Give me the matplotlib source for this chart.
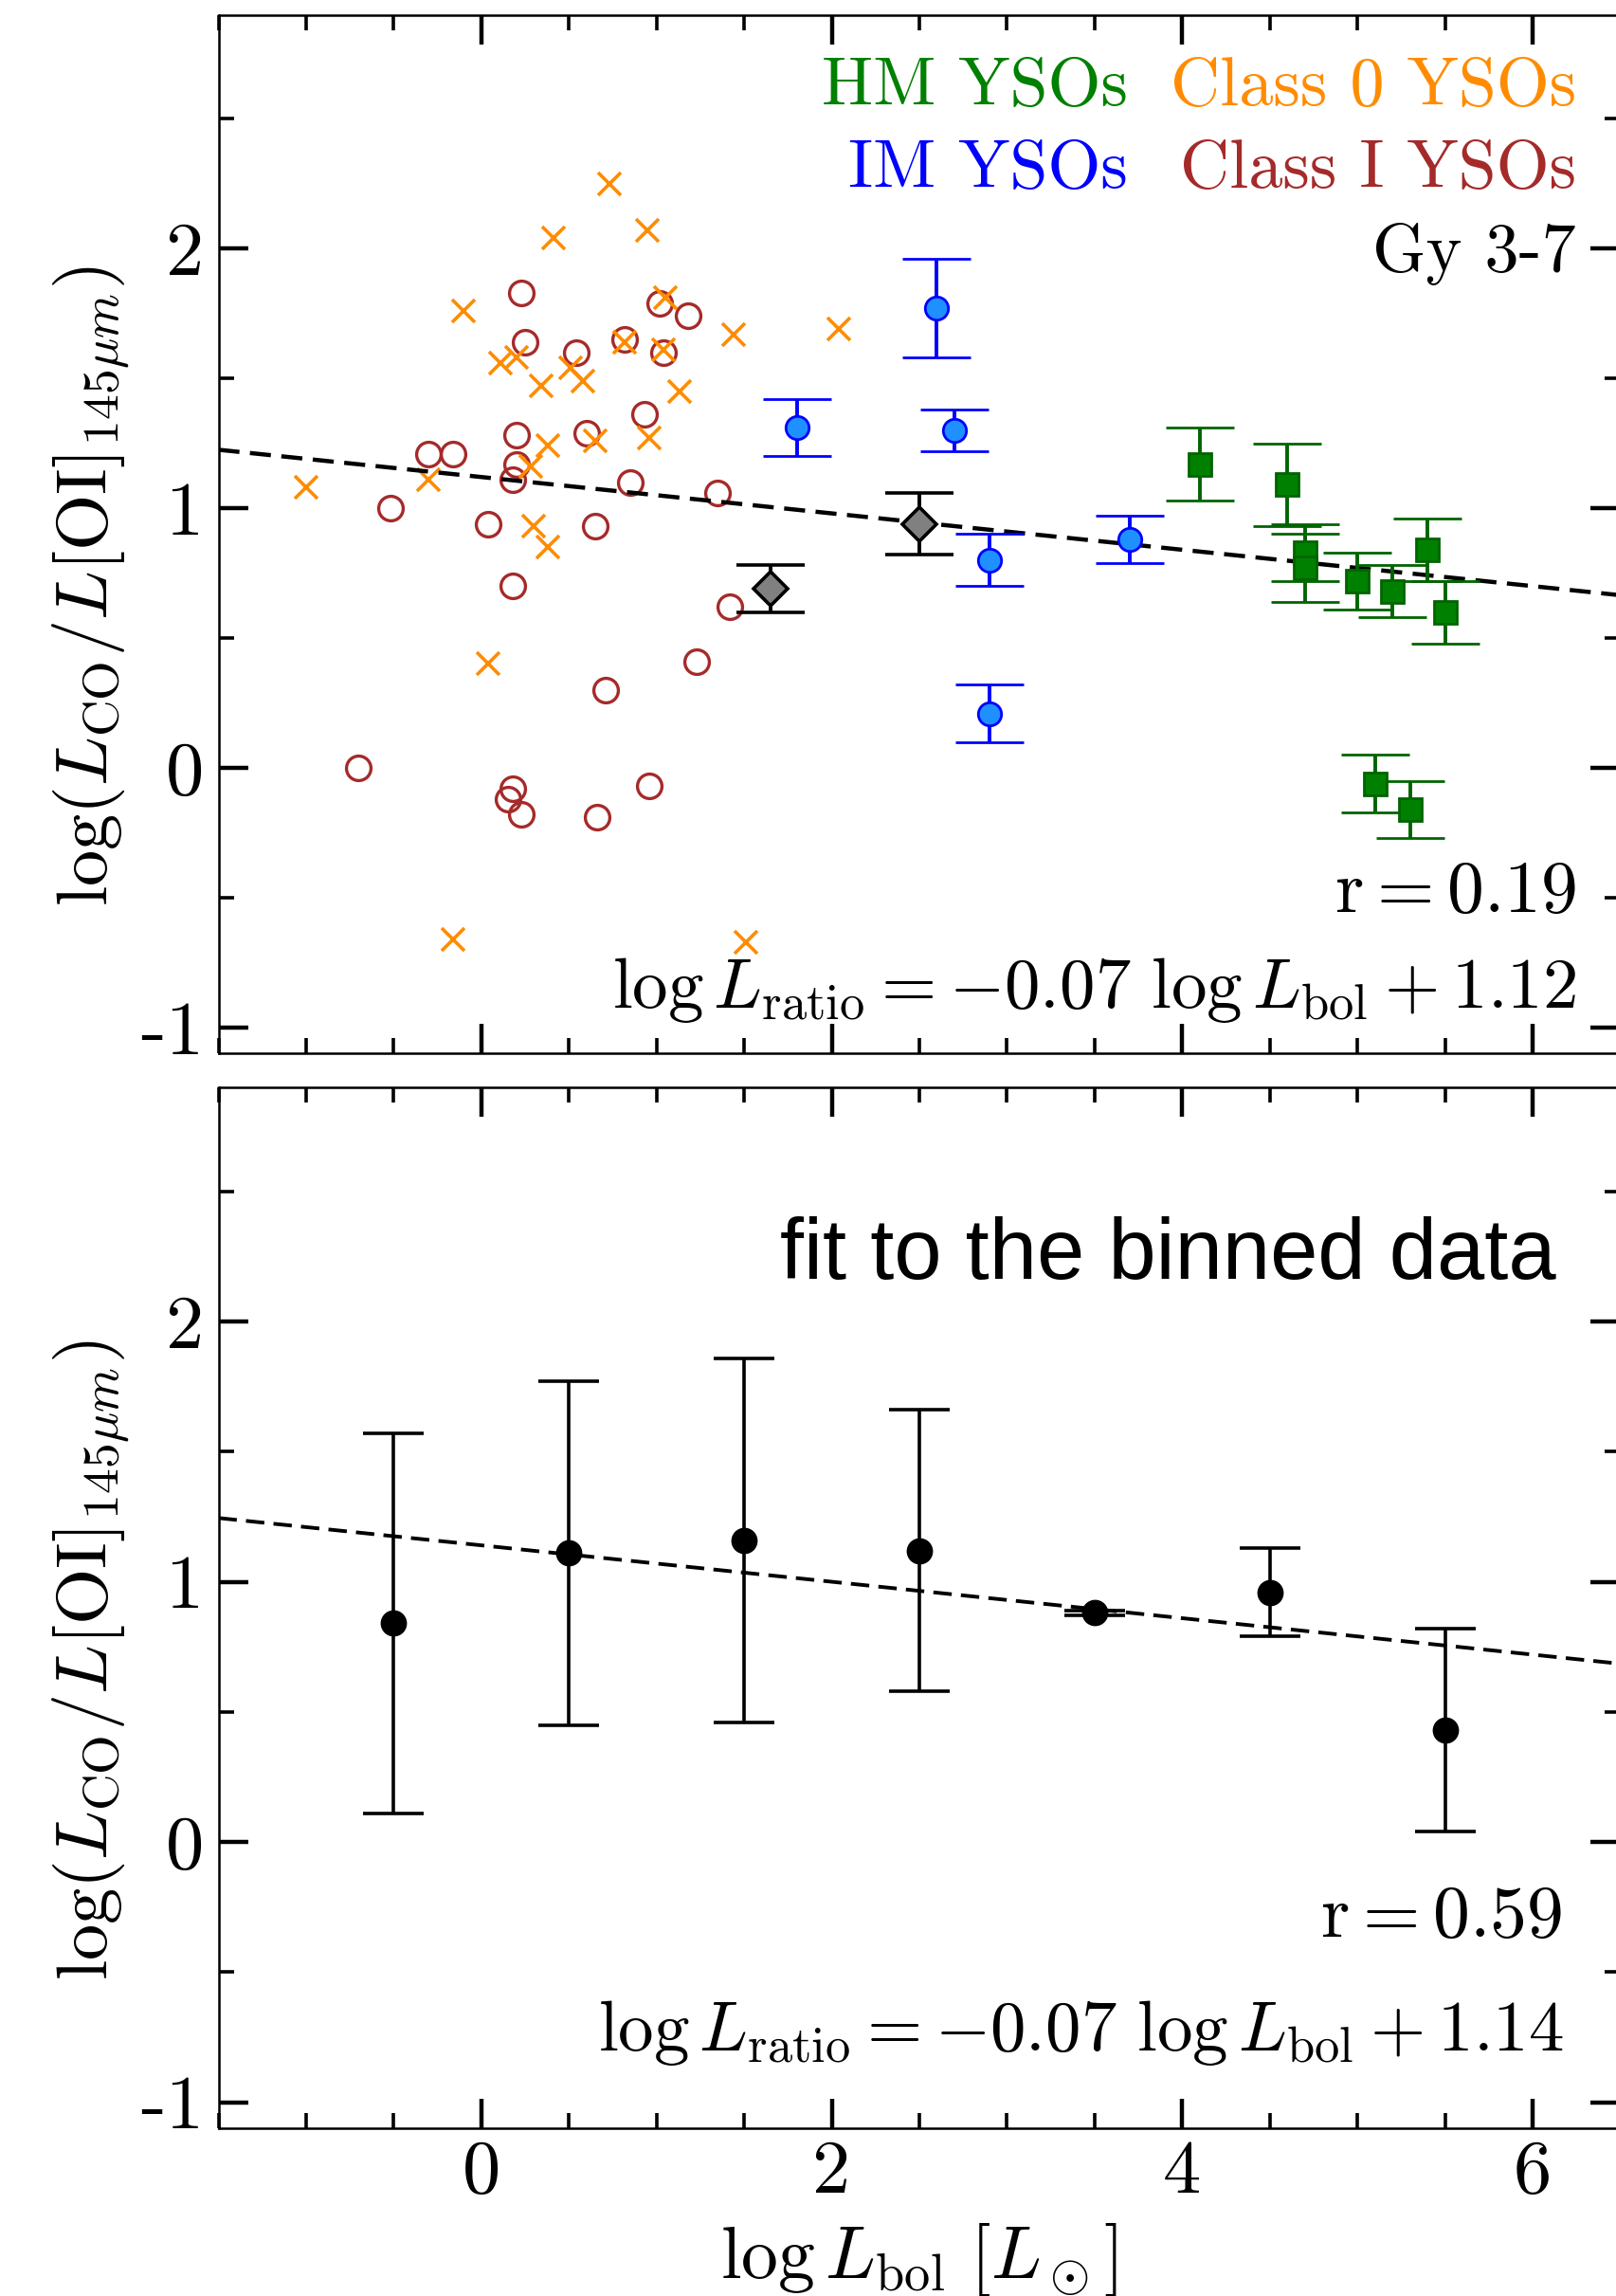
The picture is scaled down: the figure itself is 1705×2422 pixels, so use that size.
import numpy as np
import matplotlib
matplotlib.use('Agg')
import matplotlib.pyplot as plt
from matplotlib.ticker import MultipleLocator

plt.rcParams['font.family'] = 'cmr10'
plt.rcParams['mathtext.fontset'] = 'cm'
plt.rcParams['axes.unicode_minus'] = False

# Class 0 YSOs (crosses)
class0_x = [0.73, 0.41, 0.95, -0.10, 1.05, 1.44, 0.20, 0.11, 0.82, 1.04, 0.51, 0.34, 0.58,
            1.13, 0.38, 0.65, 0.96, 0.28, -1.00, -0.30, 0.30, 0.38, 0.04, -0.16, 1.51, 2.04]
class0_y = [2.25, 2.04, 2.07, 1.76, 1.81, 1.67, 1.58, 1.56, 1.64, 1.61, 1.54, 1.47, 1.49,
            1.45, 1.24, 1.26, 1.27, 1.16, 1.08, 1.11, 0.93, 0.85, 0.40, -0.66, -0.67, 1.69]

# Class I YSOs (open circles)
classI_x = [0.23, 1.02, 1.18, 0.25, 0.82, 0.54, 1.04, 0.93, 0.20, 0.60, -0.30, -0.16, 0.20,
            0.18, 0.85, 1.35, -0.52, 0.04, 0.65, 0.18, 1.42, 1.23, 0.71, -0.70, 0.18, 0.15,
            0.23, 0.96, 0.66]
classI_y = [1.83, 1.79, 1.74, 1.64, 1.65, 1.60, 1.60, 1.36, 1.28, 1.29, 1.21, 1.21, 1.17,
            1.11, 1.10, 1.06, 1.00, 0.94, 0.93, 0.70, 0.62, 0.41, 0.30, 0.00, -0.08, -0.12,
            -0.18, -0.07, -0.19]

# Gy 3-7 (grey diamonds)
gy_x = [1.65, 2.50]
gy_y = [0.69, 0.94]
gy_err = [0.09, 0.12]

# IM YSOs
im_x = [2.60, 1.80, 2.70, 2.90, 3.70, 2.90]
im_y = [1.77, 1.31, 1.30, 0.80, 0.88, 0.21]
im_err = [0.19, 0.11, 0.08, 0.10, 0.09, 0.11]

# HM YSOs
hm_x = [4.10, 4.60, 4.70, 4.70, 5.00, 5.20, 5.40, 5.50, 5.10, 5.30]
hm_y = [1.17, 1.09, 0.83, 0.77, 0.72, 0.68, 0.84, 0.60, -0.06, -0.16]
hm_err = [0.14, 0.16, 0.11, 0.13, 0.11, 0.10, 0.12, 0.12, 0.11, 0.11]

# binned data
bin_x = [-0.5, 0.5, 1.5, 2.5, 3.5, 4.5, 5.5]
bin_y = [0.84, 1.11, 1.16, 1.12, 0.88, 0.96, 0.43]
bin_err = [0.73, 0.66, 0.70, 0.54, 0.01, 0.17, 0.39]

fit_all = (-0.07, 1.12)
fit_bin = (-0.07, 1.14)
xfit = np.array([-1.5, 6.5])

fig = plt.figure(figsize=(8.525, 12.11), dpi=200)
ax1 = fig.add_axes([0.1352, 0.5411, 0.8674, 0.4525])
ax2 = fig.add_axes([0.1352, 0.0731, 0.8674, 0.4533])

fs = 29
ylab = r'$\log(L_{\rm CO}/L{\rm [OI]}_{145\mu m})$'

for ax in (ax1, ax2):
    ax.set_xlim(-1.5, 6.5)
    ax.set_ylim(-1.1, 2.9)
    ax.xaxis.set_major_locator(MultipleLocator(2))
    ax.xaxis.set_minor_locator(MultipleLocator(0.5))
    ax.yaxis.set_major_locator(MultipleLocator(1))
    ax.yaxis.set_minor_locator(MultipleLocator(0.5))
    ax.tick_params(which='both', direction='in', top=True, right=True, labelsize=fs)
    ax.tick_params(which='major', length=11, width=1.6)
    ax.tick_params(which='minor', length=5.7, width=1.3)
    ax.tick_params(axis='x', pad=4.5)
    ax.tick_params(axis='y', pad=5.5)
    for s in ax.spines.values():
        s.set_linewidth(0.9)
    ax.set_ylabel(ylab, fontsize=27.5)
    ax.yaxis.set_label_coords(-0.062, 0.45)

ax1.tick_params(labelbottom=False)

# top panel
ax1.plot(classI_x, classI_y, 'o', mfc='none', mec='brown', ms=9.3, mew=1.2, zorder=2)
ax1.plot(class0_x, class0_y, 'x', color='darkorange', ms=8.5, mew=1.3, zorder=3)
ax1.plot(xfit, fit_all[0] * xfit + fit_all[1], color='black', lw=1.6, dashes=(5, 2.5), zorder=4)
ax1.errorbar(gy_x, gy_y, yerr=gy_err, fmt='D', color='black', mfc='gray', mec='black',
             ms=9, mew=1.3, elinewidth=1.4, capsize=13, capthick=1.4, zorder=5)
ax1.errorbar(im_x, im_y, yerr=im_err, fmt='o', color='blue', mfc='dodgerblue', mec='blue',
             ms=8.8, mew=1.0, elinewidth=1.4, capsize=13, capthick=1.4, zorder=5)
ax1.errorbar(hm_x, hm_y, yerr=hm_err, fmt='s', color='darkgreen', mfc='green', mec='darkgreen',
             ms=8.8, mew=1.0, elinewidth=1.4, capsize=13, capthick=1.4, zorder=5)

lfs = 26
ax1.text(0.6488, 0.9128, 'HM YSOs', color='green', fontsize=lfs, ha='right', va='baseline', transform=ax1.transAxes)
ax1.text(0.9685, 0.9128, 'Class 0 YSOs', color='darkorange', fontsize=lfs, ha='right', va='baseline', transform=ax1.transAxes)
ax1.text(0.6488, 0.8334, 'IM YSOs', color='blue', fontsize=lfs, ha='right', va='baseline', transform=ax1.transAxes)
ax1.text(0.9685, 0.8334, 'Class I YSOs', color='brown', fontsize=lfs, ha='right', va='baseline', transform=ax1.transAxes)
ax1.text(0.9685, 0.7531, 'Gy 3-7', color='black', fontsize=lfs, ha='right', va='baseline', transform=ax1.transAxes)
ax1.text(0.9685, 0.1363, r'$\mathrm{r} = 0.19$', fontsize=28, ha='right', va='baseline', transform=ax1.transAxes)
ax1.text(0.9685, 0.0441, r'$\log L_{\rm ratio} = -0.07\ \log L_{\rm bol} + 1.12$', fontsize=27,
         ha='right', va='baseline', transform=ax1.transAxes)

# bottom panel
ax2.plot(xfit, fit_bin[0] * xfit + fit_bin[1], color='black', lw=1.4, dashes=(5, 2.5), zorder=4)
ax2.errorbar(bin_x, bin_y, yerr=bin_err, fmt='o', color='black', ms=9,
             elinewidth=1.3, capsize=11.5, capthick=1.3, zorder=5)
ax2.text(0.9544, 0.816, 'fit to the binned data', family='Liberation Sans', fontsize=32.5,
         ha='right', va='baseline', transform=ax2.transAxes)
ax2.text(0.9584, 0.184, r'$\mathrm{r} = 0.59$', fontsize=28, ha='right', va='baseline', transform=ax2.transAxes)
ax2.text(0.9597, 0.0747, r'$\log L_{\rm ratio} = -0.07\ \log L_{\rm bol} + 1.14$', fontsize=27,
         ha='right', va='baseline', transform=ax2.transAxes)
ax2.set_xlabel(r'$\log L_{\rm bol}\ [L_\odot]$', fontsize=28)
ax2.xaxis.set_label_coords(0.5, -0.089)

fig.savefig('out.png', dpi=200)
